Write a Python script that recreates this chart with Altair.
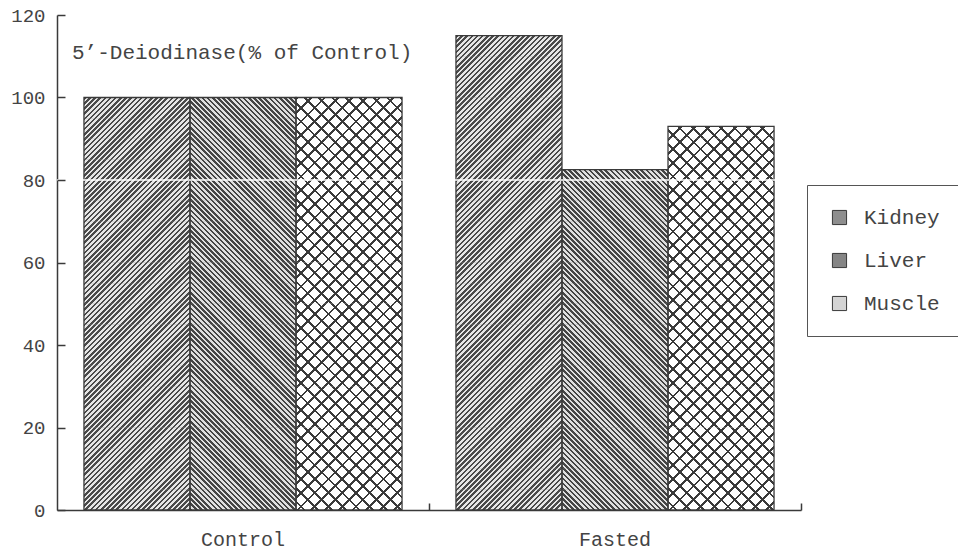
import math
import altair as alt
import pandas as pd

# ---- data ----
groups = ["Control", "Fasted"]
tissues = ["Kidney", "Liver", "Muscle"]
control_values = [100, 100, 100]
fasted_values = [115, 82.5, 93]
y_ticks = [0, 20, 40, 60, 80, 100, 120]
title_text = "5’-Deiodinase(% of Control)"
white_line_values = [80]

rows = []
for g, vals in zip(groups, [control_values, fasted_values]):
    for t, v in zip(tissues, vals):
        rows.append({"group": g, "tissue": t, "value": v, "key": f"{g}|{t}"})
df = pd.DataFrame(rows)

# ---- layout / style ----
W, H = 744, 495
YMAX = 120
PAD_IN = 0.145
STEP = W / len(groups)
BAR_W = STEP * (1 - PAD_IN) / len(tissues)
PX_PER_UNIT = H / YMAX
FONT = "Liberation Mono"
TXT = "#444444"
LINE = "#3a3a3a"
swatch_colors = ["#8e8e8e", "#858585", "#d4d4d4"]

hatch = {
    "Kidney": {"dirs": ["/"], "tile": 5, "per_tile": 4, "duty": 0.5,
               "dark": "#4a4a4a", "light": ["#e6e6e6"]},
    "Liver": {"dirs": ["\\"], "tile": 5, "per_tile": 4, "duty": 0.5,
              "dark": "#454545", "light": ["#e0e0e0"]},
    "Muscle": {"dirs": ["/", "\\"], "tile": 10, "per_tile": 3, "duty": 0.2,
               "dark": "#3a3a3a", "light": ["#ffffff", "rgba(255,255,255,0)"]},
}


def stripe_gradient(w, h, direction, period, duty, dark, light, phase=0.0):
    L = w + h
    k = L * h / (h * h + w * w)
    if direction == "/":
        x1, y1, x2, y2 = 0, 0, k * w / h, k
    else:
        x1, y1, x2, y2 = 1, 0, 1 - k * w / h, k
    start = phase
    edges = []
    m = math.floor(start / period) - 1
    while m * period < start + L + period:
        for e in (m * period, m * period + duty * period):
            if start < e < start + L:
                edges.append(e)
        m += 1
    edges.sort()
    pts = [start] + edges + [start + L]
    stops = []
    for a, b in zip(pts[:-1], pts[1:]):
        mid = (a + b) / 2
        c = dark if (mid % period) < duty * period else light
        stops.append({"offset": (a - start) / L, "color": c})
        stops.append({"offset": (b - start) / L, "color": c})
    return {"gradient": "linear", "x1": x1, "y1": y1, "x2": x2, "y2": y2, "stops": stops}


tile_rows = []
for g, vals in zip(groups, [control_values, fasted_values]):
    for t, v in zip(tissues, vals):
        step = hatch[t]["tile"]
        n_full = int(math.floor(v / step + 1e-9))
        for i in range(n_full):
            tile_rows.append({"group": g, "tissue": t, "y0": i * step, "y1": (i + 1) * step,
                              "kind": "full", "key": f"{g}|{t}"})
        if v - n_full * step > 1e-9:
            tile_rows.append({"group": g, "tissue": t, "y0": n_full * step, "y1": v,
                              "kind": "part", "key": f"{g}|{t}"})
tiles = pd.DataFrame(tile_rows)

x_plain = alt.X("group:N", sort=groups, axis=None)
xo_plain = alt.XOffset("tissue:N", sort=tissues)

base_bars = alt.Chart(df).mark_bar().encode(
    x=alt.X(
        "group:N",
        sort=groups,
        scale=alt.Scale(paddingInner=PAD_IN, paddingOuter=PAD_IN / 2),
        axis=alt.Axis(
            orient="bottom",
            title=None,
            ticks=False,
            domain=True,
            domainColor=LINE,
            domainWidth=1.5,
            labelAngle=0,
            labelFont=FONT,
            labelFontSize=20,
            labelColor=TXT,
            labelPadding=19,
            grid=False,
        ),
    ),
    xOffset=alt.XOffset("tissue:N", sort=tissues, scale=alt.Scale(paddingInner=0, paddingOuter=0)),
    y=alt.Y(
        "value:Q",
        scale=alt.Scale(domain=[0, YMAX], nice=False, zero=True),
        axis=alt.Axis(
            orient="left",
            title=None,
            values=y_ticks,
            ticks=False,
            domain=True,
            domainColor=LINE,
            domainWidth=1.5,
            labelFont=FONT,
            labelFontSize=19,
            labelColor=TXT,
            labelPadding=12,
            grid=False,
        ),
    ),
    color=alt.Color(
        "tissue:N",
        sort=tissues,
        scale=alt.Scale(domain=tissues, range=swatch_colors),
        legend=alt.Legend(
            orient="none",
            legendX=750,
            legendY=170,
            title=None,
            strokeColor="#555555",
            fillColor="white",
            padding=22,
            symbolType="square",
            symbolSize=200,
            symbolStrokeColor=LINE,
            symbolStrokeWidth=1,
            labelFont=FONT,
            labelFontSize=21,
            labelColor=TXT,
            rowPadding=21,
            labelOffset=14,
        ),
    ),
)

layers = [base_bars]
for t in tissues:
    hs = hatch[t]
    tile_px = hs["tile"] * PX_PER_UNIT
    period = tile_px / hs["per_tile"]
    for d, light in zip(hs["dirs"], hs["light"]):
        grad = stripe_gradient(BAR_W, tile_px, d, period, hs["duty"], hs["dark"], light)
        layers.append(
            alt.Chart(tiles)
            .transform_filter((alt.datum.tissue == t) & (alt.datum.kind == "full"))
            .mark_bar(fill=grad, strokeWidth=0)
            .encode(x=x_plain, xOffset=xo_plain, y=alt.Y("y0:Q", axis=None), y2="y1:Q")
        )
    part = tiles[(tiles.tissue == t) & (tiles.kind == "part")]
    for _, r in part.iterrows():
        hp = (r.y1 - r.y0) * PX_PER_UNIT
        for d, light in zip(hs["dirs"], hs["light"]):
            grad = stripe_gradient(BAR_W, hp, d, period, hs["duty"], hs["dark"], light,
                                   phase=(-hp) % period)
            layers.append(
                alt.Chart(tiles)
                .transform_filter((alt.datum.key == r.key) & (alt.datum.kind == "part"))
                .mark_bar(fill=grad, strokeWidth=0)
                .encode(x=x_plain, xOffset=xo_plain, y=alt.Y("y0:Q", axis=None), y2="y1:Q")
            )

outline = alt.Chart(df).mark_bar(fillOpacity=0, stroke=LINE, strokeWidth=1.3).encode(
    x=x_plain, xOffset=xo_plain, y=alt.Y("value:Q", axis=None)
)
layers.append(outline)

white_line = alt.Chart(pd.DataFrame({"v": white_line_values})).mark_rule(
    color="white", strokeWidth=1.6
).encode(y=alt.Y("v:Q", axis=None))
layers.append(white_line)

# inward-pointing ticks: x ticks at the group boundaries, y ticks to the right of the axis line
tick_layer = alt.Chart(df).mark_bar(opacity=0).encode(
    x=alt.X(
        "group:N",
        sort=groups,
        axis=alt.Axis(
            orient="top",
            offset=-H,
            title=None,
            labels=False,
            domain=False,
            ticks=True,
            tickOffset=STEP / 2,
            tickSize=7,
            tickColor=LINE,
            tickWidth=1.5,
            grid=False,
            zindex=1,
        ),
    ),
    xOffset=xo_plain,
    y=alt.Y(
        "value:Q",
        axis=alt.Axis(
            orient="right",
            offset=-W,
            title=None,
            labels=False,
            domain=False,
            values=y_ticks,
            tickSize=8,
            tickColor=LINE,
            tickWidth=1.5,
            grid=False,
            zindex=1,
        ),
    ),
)
layers.append(tick_layer)

chart = (
    alt.layer(*layers)
    .resolve_axis(x="independent", y="independent")
    .properties(
        width=W,
        height=H,
        background="white",
        autosize=alt.AutoSizeParams(type="none"),
        padding={"left": 57, "top": 15, "right": 157, "bottom": 47},
        title=alt.TitleParams(
            text=title_text,
            anchor="start",
            frame="group",
            orient="top",
            font=FONT,
            fontSize=21,
            fontWeight="normal",
            color=TXT,
            baseline="alphabetic",
            offset=0,
            dx=15,
            dy=74,
        ),
    )
    .configure_view(strokeWidth=0, stroke="transparent")
)

chart.save("out.html", embed_options={"renderer": "svg", "actions": False})
